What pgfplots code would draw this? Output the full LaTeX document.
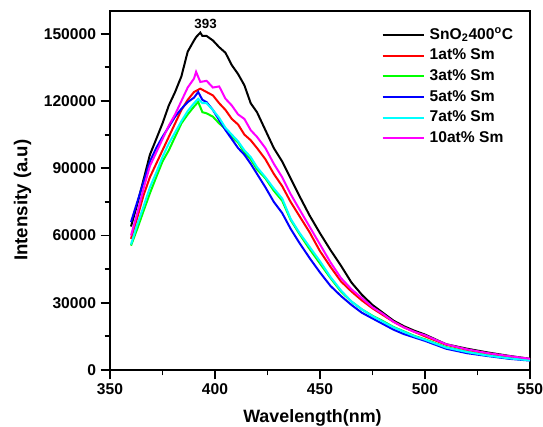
\documentclass[border=0pt]{standalone}
\usepackage{fontspec}
\setmainfont{Liberation Sans}
\usepackage{pgfplots}
\pgfplotsset{compat=1.18}
\usepackage{pgfplotstable}

% wavelength (nm) vs intensity
\pgfplotstableread{
x y
360 64000
363 74000
366 85000
369 96000
372 103000
375 110000
378 118000
381 124000
384 131000
387 142000
390 147000
391 148500
393 150500
394 149000
396 149000
399 147000
402 144000
405 141500
408 136000
411 132000
414 127000
417 119000
420 115000
424 107000
428 99000
432 93000
436 85500
440 78000
445 69000
450 61000
455 53500
460 46500
465 39000
470 33500
475 29000
480 25500
485 22000
490 19500
495 17500
500 15800
510 11500
520 9500
530 7800
540 6300
550 5000
}\sno

\pgfplotstableread{
x y
360 58500
363 68000
366 78000
369 86000
372 92000
375 98000
378 104000
381 110000
384 116000
387 120500
390 124000
393 125500
396 124000
399 122500
402 119000
405 116000
408 112000
411 109500
414 105000
417 102500
420 99000
424 94000
428 87500
432 82000
436 75000
440 69000
445 61500
450 53000
455 46000
460 39500
465 35000
470 31000
475 27500
480 24500
485 21500
490 19000
495 17000
500 15000
510 11300
520 9000
530 7400
540 6000
550 4800
}\smone

\pgfplotstableread{
x y
360 55500
363 63000
366 71000
369 78800
372 86000
375 93000
378 98000
381 104000
384 110000
387 114000
390 117500
392 119600
394 115000
396 114500
399 113000
402 110000
405 107500
408 104000
411 101500
414 97000
417 94000
420 89500
424 85500
428 80000
432 75500
436 67000
440 61000
445 54000
450 47500
455 41000
460 35000
465 30500
470 27000
475 24200
480 21800
485 19200
490 17200
495 15200
500 13700
510 10200
520 8100
530 6500
540 5300
550 4400
}\smthree

\pgfplotstableread{
x y
360 66000
363 75000
366 84000
369 93000
372 99000
375 104000
378 108500
381 113000
384 116500
387 119500
390 121500
392 124000
394 120500
396 119500
399 116000
402 111500
405 107000
408 103000
411 99000
414 96000
417 92000
420 87500
424 81500
428 75000
432 70000
436 63000
440 57000
445 50000
450 43500
455 37500
460 33000
465 29000
470 25500
475 23000
480 20500
485 18000
490 16000
495 14500
500 13000
510 9500
520 7500
530 6200
540 5000
550 4200
}\smfive

\pgfplotstableread{
x y
360 56000
363 65000
366 73000
369 81500
372 88000
375 95000
378 101000
381 106000
384 111000
387 115500
390 119000
392 121000
394 119000
396 119000
399 116000
402 112500
405 108000
408 105000
411 102000
414 98000
417 95000
420 90500
424 86000
428 81000
432 76500
436 67500
440 61500
445 55000
450 48500
455 41500
460 35500
465 30500
470 27000
475 24000
480 21500
485 19000
490 17000
495 15000
500 13500
510 10000
520 8000
530 6400
540 5200
550 4300
}\smseven

\pgfplotstableread{
x y
360 60000
363 70000
366 81000
369 91000
372 97000
375 103000
378 109000
381 114000
384 120000
387 126000
390 130000
391 133000
393 128500
396 129000
399 126000
402 126500
405 121000
408 118000
411 114000
414 112000
417 107000
420 104000
424 99000
428 92000
432 86000
436 78500
440 72000
445 64000
450 56000
455 48000
460 41000
465 36000
470 32000
475 28000
480 25000
485 21500
490 19000
495 17000
500 15500
510 11500
520 9200
530 7500
540 6200
550 5000
}\smten

\definecolor{cgreen}{RGB}{0,255,0}
\definecolor{ccyan}{RGB}{0,255,255}
\definecolor{cmag}{RGB}{255,0,255}

\begin{document}
\begin{tikzpicture}
\begin{axis}[
    at={(0,0)}, anchor=south west,
    scale only axis,
    width=315pt, height=269pt,
    xmin=350, xmax=550,
    ymin=0, ymax=160000,
    xtick={350,400,...,550},
    ytick={0,30000,...,150000},
    minor x tick num=1,
    minor y tick num=1,
    tick pos=left,
    tick align=outside,
    major tick length=7pt,
    minor tick length=4pt,
    every tick/.style={line width=1.4pt, black},
    axis line style={line width=1.6pt},
    scaled y ticks=false,
    /pgf/number format/fixed,
    /pgf/number format/precision=0,
    /pgf/number format/set thousands separator={},
    /pgf/number format/assume math mode=true,
    ticklabel style={font=\fontsize{11.7}{13}\selectfont\bfseries},
    xlabel={Wavelength(nm)},
    ylabel={Intensity (a.u)},
    xlabel style={font=\fontsize{13.4}{15}\selectfont\bfseries,
        at={(axis description cs:0.482,-0.147)}, anchor=base},
    ylabel style={font=\fontsize{14}{15}\selectfont\bfseries,
        at={(axis description cs:-0.197,0.4735)}, anchor=base},
    legend style={draw=none, fill=none, at={(0.646,0.958)}, anchor=north west,
        font=\fontsize{11.7}{13}\selectfont\bfseries, row sep=3pt, column sep=3pt,
        inner sep=0pt, nodes={inner sep=0.5pt, text height=9pt, text depth=2.5pt}},
    legend cell align=left,
    legend image code/.code={\draw[#1, line width=1.6pt] (0pt,0pt) -- (31pt,0pt);},
    every axis plot/.append style={line width=1.5pt},
]
\addplot[black] table {\sno};
\addlegendentry{SnO\textsubscript{2}400\textsuperscript{o}C}
\addplot[red] table {\smone};
\addlegendentry{1at\% Sm}
\addplot[cgreen] table {\smthree};
\addlegendentry{3at\% Sm}
\addplot[blue] table {\smfive};
\addlegendentry{5at\% Sm}
\addplot[ccyan] table {\smseven};
\addlegendentry{7at\% Sm}
\addplot[cmag] table {\smten};
\addlegendentry{10at\% Sm}
\node[font=\fontsize{10}{11}\selectfont\bfseries, anchor=base] at (axis cs:395.5,152500) {393};
\end{axis}
\pgfresetboundingbox
\path[use as bounding box] (-82.5pt,-42.75pt) rectangle (324.75pt,277.5pt);
\end{tikzpicture}
\end{document}
